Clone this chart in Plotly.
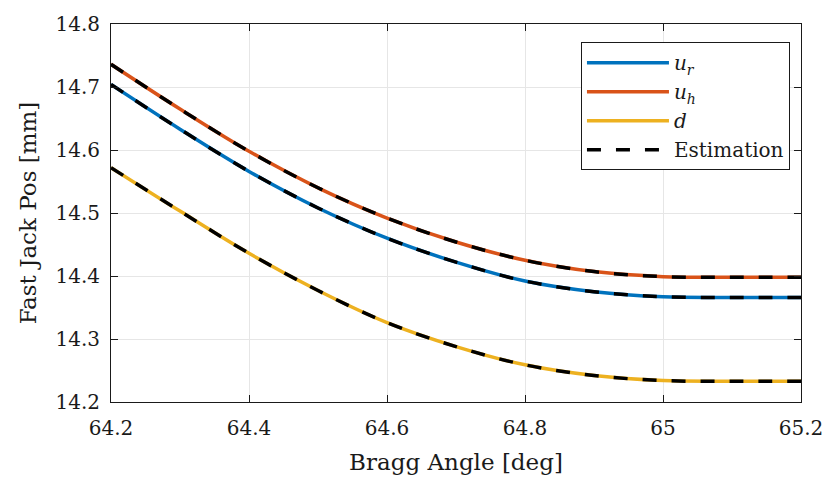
import plotly.graph_objects as go

# Bragg angle samples [deg]
bragg_angle = [64.2, 64.3, 64.4, 64.5, 64.6, 64.7, 64.8, 64.9, 65.0, 65.1, 65.2]

# Fast jack positions [mm]
u_r = [14.704, 14.633, 14.566, 14.508, 14.460, 14.422, 14.392, 14.375, 14.367, 14.366, 14.366]
u_h = [14.736, 14.665, 14.598, 14.540, 14.492, 14.454, 14.425, 14.407, 14.399, 14.398, 14.398]
d = [14.572, 14.503, 14.436, 14.377, 14.326, 14.288, 14.259, 14.242, 14.234, 14.233, 14.233]

# Estimated positions [mm]
u_r_est = list(u_r)
u_h_est = list(u_h)
d_est = list(d)

x_ticks = [64.2, 64.4, 64.6, 64.8, 65.0, 65.2]
x_tick_text = ["64.2", "64.4", "64.6", "64.8", "65", "65.2"]
y_ticks = [14.2, 14.3, 14.4, 14.5, 14.6, 14.7, 14.8]

FONT = "DejaVu Serif"
INK = "#1a1a1a"

fig = go.Figure()

series = [
    ("<i>u</i><sub><i>r</i></sub>", u_r, "#0072BD"),
    ("<i>u</i><sub><i>h</i></sub>", u_h, "#D95319"),
    ("<i>d</i>", d, "#EDB120"),
]
for name, ys, color in series:
    fig.add_trace(go.Scatter(
        x=bragg_angle, y=ys, mode="lines", name=name,
        line=dict(color=color, width=3.5, shape="spline"),
    ))

for i, ys in enumerate([u_r_est, u_h_est, d_est]):
    fig.add_trace(go.Scatter(
        x=bragg_angle, y=ys, mode="lines", name="Estimation",
        legendgroup="est", showlegend=(i == 0),
        line=dict(color="black", width=3.5, dash="14px,15px", shape="spline"),
    ))

axis_common = dict(
    showline=True, linecolor=INK, linewidth=1, mirror="ticks",
    ticks="inside", ticklen=7, tickcolor=INK,
    showgrid=True, gridcolor="#e6e6e6", gridwidth=1,
    zeroline=False,
    tickfont=dict(family=FONT, size=20, color=INK),
    title_font=dict(family=FONT, size=23, color=INK),
)

fig.update_xaxes(
    range=[64.2, 65.2], tickvals=x_ticks, ticktext=x_tick_text,
    ticklabelstandoff=8,
    title_text="Bragg Angle [deg]", title_standoff=14, **axis_common,
)
fig.update_yaxes(
    range=[14.2, 14.8], tickvals=y_ticks, tickformat=".1f",
    ticklabelstandoff=6,
    title_text="Fast Jack Pos [mm]", title_standoff=12, **axis_common,
)

fig.update_layout(
    width=835, height=482,
    margin=dict(l=111, r=26, t=20, b=80),
    paper_bgcolor="white", plot_bgcolor="white",
    font=dict(family=FONT, size=20, color=INK),
    legend=dict(
        x=0.984, y=0.952, xanchor="right", yanchor="top",
        bgcolor="white", bordercolor=INK, borderwidth=1,
        itemwidth=82, tracegroupgap=0,
        font=dict(family=FONT, size=20, color=INK),
    ),
)

fig.write_html("out.html")
